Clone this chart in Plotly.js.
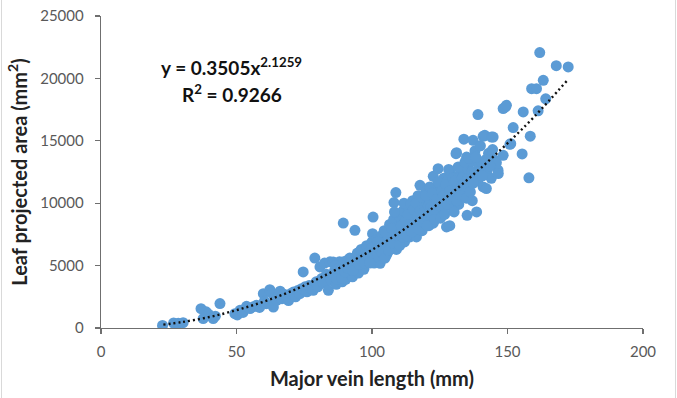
<!DOCTYPE html>
<html>
<head>
<meta charset="utf-8">
<script src="https://cdn.plot.ly/plotly-3.0.1.min.js"></script>
<style>
  html, body { margin: 0; padding: 0; background: #fff; }
  #chart { width: 677px; height: 398px; position: relative; }
  #frameL { position: absolute; left: 1px; top: 0; width: 1px; height: 398px; background: #d9d9d9; pointer-events: none; }
  #frameR { position: absolute; left: 675px; top: 0; width: 1px; height: 398px; background: #d9d9d9; pointer-events: none; }
</style>
</head>
<body>
<div id="chart"></div>
<div id="frameL"></div>
<div id="frameR"></div>
<script>
// Major vein length (mm) of each leaf
const veinLength = [
  22.7, 26.8, 28.5, 30.3,
  36.9, 37.7, 38.8, 39.6, 41.4, 42.2, 43.9,
  49.4, 50.3, 51.3, 52.4, 53.7, 55.0, 56.2, 57.4, 58.5, 59.9, 60.3, 61.0,
  62.3, 63.0, 63.6, 64.2, 64.8, 65.5, 66.1, 66.8, 67.5, 68.5, 69.2, 70.0, 71.0, 71.8, 72.6, 73.4, 74.0, 74.6, 75.3, 76.0, 76.8, 77.5,
  78.3, 78.9, 79.4, 80.0, 80.8, 81.4, 82.0, 82.5, 83.2, 83.9, 84.5, 85.0, 85.7, 86.2, 86.8, 87.4, 88.0, 88.5, 89.0, 89.4, 89.8,
  90.3, 90.8, 91.3, 91.8, 92.3, 92.8, 93.3, 93.7, 94.1, 94.6, 95.0, 95.5, 96.0, 96.5, 97.0, 97.5, 98.0, 98.5, 99.0, 99.5,
  100.0, 100.2, 100.4, 100.8, 101.2, 101.7, 102.2, 102.7, 103.0, 103.5, 104.0, 104.5, 105.0, 105.5, 106.0, 106.5, 107.0, 107.5,
  108.0, 108.1, 108.8, 108.5, 109.0, 109.5, 110.0, 110.5, 111.0, 111.5, 112.0, 112.5, 113.0, 113.5, 114.0, 114.5, 115.0, 115.5,
  116.0, 116.4, 117.0, 117.7, 117.5, 118.0, 118.5, 119.0, 119.5, 120.0, 120.5, 121.0, 121.5, 122.0, 122.6, 122.6, 123.0, 123.5,
  124.0, 124.4, 124.5, 125.0, 125.5, 126.0, 126.5, 127.0, 127.5, 128.0, 128.7, 128.5, 129.0, 129.5, 130.0, 130.5, 131.0, 131.2,
  131.5, 132.0, 132.5, 133.0, 133.5, 133.9, 134.0, 134.5, 134.9, 135.1, 135.5, 136.0, 136.5, 137.3, 137.0, 137.7, 138.0, 138.6,
  139.0, 139.1, 139.5, 140.4, 141.0, 141.6, 141.0, 142.2, 142.5, 143.0, 144.1, 144.7, 144.0, 145.0, 145.9, 146.5, 146.6, 148.4,
  148.4, 149.3, 149.6, 150.9, 151.2, 152.1, 155.4, 155.8, 157.9, 158.4, 158.9, 160.7, 161.3, 161.9, 163.2, 164.1, 168.0, 172.4,
  101.0, 102.0, 103.8, 104.8, 105.2, 106.2, 107.2, 107.8, 108.3, 109.3, 110.2, 110.8, 111.3, 111.8, 112.3, 112.8, 113.3, 113.8,
  114.3, 114.8, 115.3, 115.8, 116.3, 116.8, 117.3, 117.8, 118.3, 118.8, 119.3, 119.8, 120.3, 120.8, 121.3, 121.8, 122.3, 122.8,
  123.3, 123.8, 124.3, 124.8, 125.3, 125.8, 126.3, 126.8, 127.3, 127.8, 128.3, 128.8, 129.3, 129.8, 130.3, 130.8, 131.3, 131.8,
  132.3, 132.8, 133.3, 133.8, 134.3, 134.8, 135.3, 135.8, 136.3, 136.8, 137.4, 138.3, 139.3, 140.0, 140.8, 142.0, 143.5, 144.5,
  85.3, 86.5, 87.0, 87.8, 88.8, 89.5, 90.0, 91.0, 92.0, 93.0, 94.4, 95.2, 96.2, 97.2, 98.2, 99.2, 99.8
];
// Leaf projected area (mm²) of each leaf, same order
const leafArea = [
  210, 400, 380, 430,
  1550, 760, 1300, 1120, 760, 950, 1960,
  1150, 1050, 1420, 1250, 1740, 1560, 1700, 1820, 1650, 2750, 2150, 1950,
  3070, 2800, 1680, 2400, 2220, 2650, 2950, 2350, 2700, 2480, 2200, 2750, 2880, 2500, 3000, 2750, 3150, 4490, 3300, 2900, 3400, 3150,
  3020, 5600, 3700, 3300, 4890, 3960, 3600, 5200, 4300, 3020, 5300, 3800, 5290, 4600, 3500, 4100, 5300, 4500, 3700, 8410, 5000,
  3900, 5400, 4300, 5600, 4700, 4100, 5300, 7830, 4800, 6000, 4400, 5500, 6300, 5000, 4700, 5900, 6600, 5300, 6100, 5600,
  6900, 7560, 8890, 5200, 6400, 7100, 5800, 6700, 5180, 7400, 6200, 7800, 6900, 5900, 7300, 8300, 6500, 7700,
  8700, 10050, 10850, 7100, 6300, 8100, 9000, 7500, 8600, 9400, 6900, 7900, 8300, 9700, 7300, 8800, 10200, 8000,
  9200, 7300, 10600, 11430, 8500, 9600, 7800, 10100, 8900, 11000, 9500, 8200, 10400, 9000, 12150, 8400, 11200, 9900,
  10700, 12770, 8900, 11600, 10200, 9500, 12000, 10900, 8100, 11800, 8200, 10300, 12400, 9700, 11300, 10700, 13970, 14050,
  12100, 9900, 11600, 12900, 10500, 15130, 12300, 11000, 13700, 9030, 12700, 11400, 13300, 15040, 10200, 12000, 14200, 9300,
  11800, 17100, 13000, 13300, 15360, 15440, 11300, 11170, 12600, 14000, 15300, 15300, 12000, 13500, 13250, 12640, 12370, 13840,
  17580, 17710, 17845, 14720, 14770, 16060, 13950, 17310, 12030, 15370, 19180, 19180, 17400, 22070, 19850, 18360, 21020, 20920,
  5700, 6900, 6000, 5600, 7600, 6200, 8000, 6800, 9300, 7400, 6600, 8200, 7300, 10000, 8600, 7400, 9100, 8000,
  9900, 7700, 9500, 8500, 10000, 9000, 7900, 9400, 10500, 8500, 9300, 10600, 8200, 9800, 11300, 9700, 10800, 9500,
  8700, 10300, 11700, 9800, 8800, 11000, 10600, 9100, 11500, 9900, 12700, 11000, 10300, 12000, 9300, 11800, 10200, 12900,
  11100, 10600, 12000, 11600, 13300, 10400, 12000, 13600, 10900, 12500, 11600, 13700, 12500, 14600, 12200, 13500, 13000, 14300,
  4300, 5000, 3900, 4800, 4000, 5300, 4500, 4800, 5200, 4600, 5300, 5100, 5400, 5200, 5800, 5200, 6400
];
// Power trend line
const trendX = [23, 30, 40, 50, 60, 70, 80, 90, 100, 110, 120, 130, 140, 150, 160, 172];
const trendY = [270, 480, 880, 1430, 2110, 2930, 3930, 5050, 6260, 7630, 9220, 10930, 12790, 14800, 16960, 19830];

const xTickVals = [0, 50, 100, 150, 200];
const yTickVals = [0, 5000, 10000, 15000, 20000, 25000];
const equationText = 'y = 0.3505x<sup>2.1259</sup>';
const r2Text = 'R<sup>2</sup> = 0.9266';

const axisColor = '#6f6f6f';
const tickFont = { family: 'Lato, sans-serif', size: 15, color: '#595959' };
const titleFont = { family: 'Lato, sans-serif', size: 20, color: '#222', weight: 'bold' };
const eqFont = { family: 'Lato, sans-serif', size: 19, color: '#111', weight: 'bold' };

const data = [
  {
    type: 'scatter', mode: 'markers',
    x: veinLength, y: leafArea,
    marker: { size: 11, color: '#5B9BD5', line: { width: 0 } },
    hoverinfo: 'skip', showlegend: false
  },
  {
    type: 'scatter', mode: 'lines',
    x: trendX, y: trendY,
    line: { color: '#111', width: 2.4, dash: '2px,3px', shape: 'spline', smoothing: 1 },
    hoverinfo: 'skip', showlegend: false
  }
];

const layout = {
  width: 677, height: 398,
  margin: { l: 101, r: 34, t: 16, b: 70 },
  paper_bgcolor: '#fff', plot_bgcolor: '#fff',
  showlegend: false,
  xaxis: {
    range: [0, 200], tickvals: xTickVals, ticktext: xTickVals.map(String),
    showgrid: false, zeroline: false,
    showline: true, linecolor: axisColor, linewidth: 1.3,
    ticks: 'outside', ticklen: 5, tickcolor: axisColor, tickwidth: 1.3,
    tickfont: tickFont, ticklabelstandoff: 5,
    title: { text: 'Major vein length (mm)', font: titleFont, standoff: 12 },
    automargin: false
  },
  yaxis: {
    range: [0, 25000], tickvals: yTickVals, ticktext: yTickVals.map(String),
    showgrid: false, zeroline: false,
    showline: true, linecolor: axisColor, linewidth: 1.3,
    ticks: 'outside', ticklen: 5, tickcolor: axisColor, tickwidth: 1.3,
    tickfont: tickFont, ticklabelstandoff: 8,
    title: { text: 'Leaf projected area (mm<sup>2</sup>)', font: titleFont, standoff: 7 },
    automargin: false
  },
  annotations: [
    { xref: 'x', yref: 'y', x: 48.3, y: 20950, text: equationText, showarrow: false,
      xanchor: 'center', yanchor: 'middle', font: eqFont },
    { xref: 'x', yref: 'y', x: 48.3, y: 18800, text: r2Text, showarrow: false,
      xanchor: 'center', yanchor: 'middle', font: eqFont }
  ]
};

Plotly.newPlot('chart', data, layout, { displayModeBar: false, staticPlot: true });
</script>
</body>
</html>
